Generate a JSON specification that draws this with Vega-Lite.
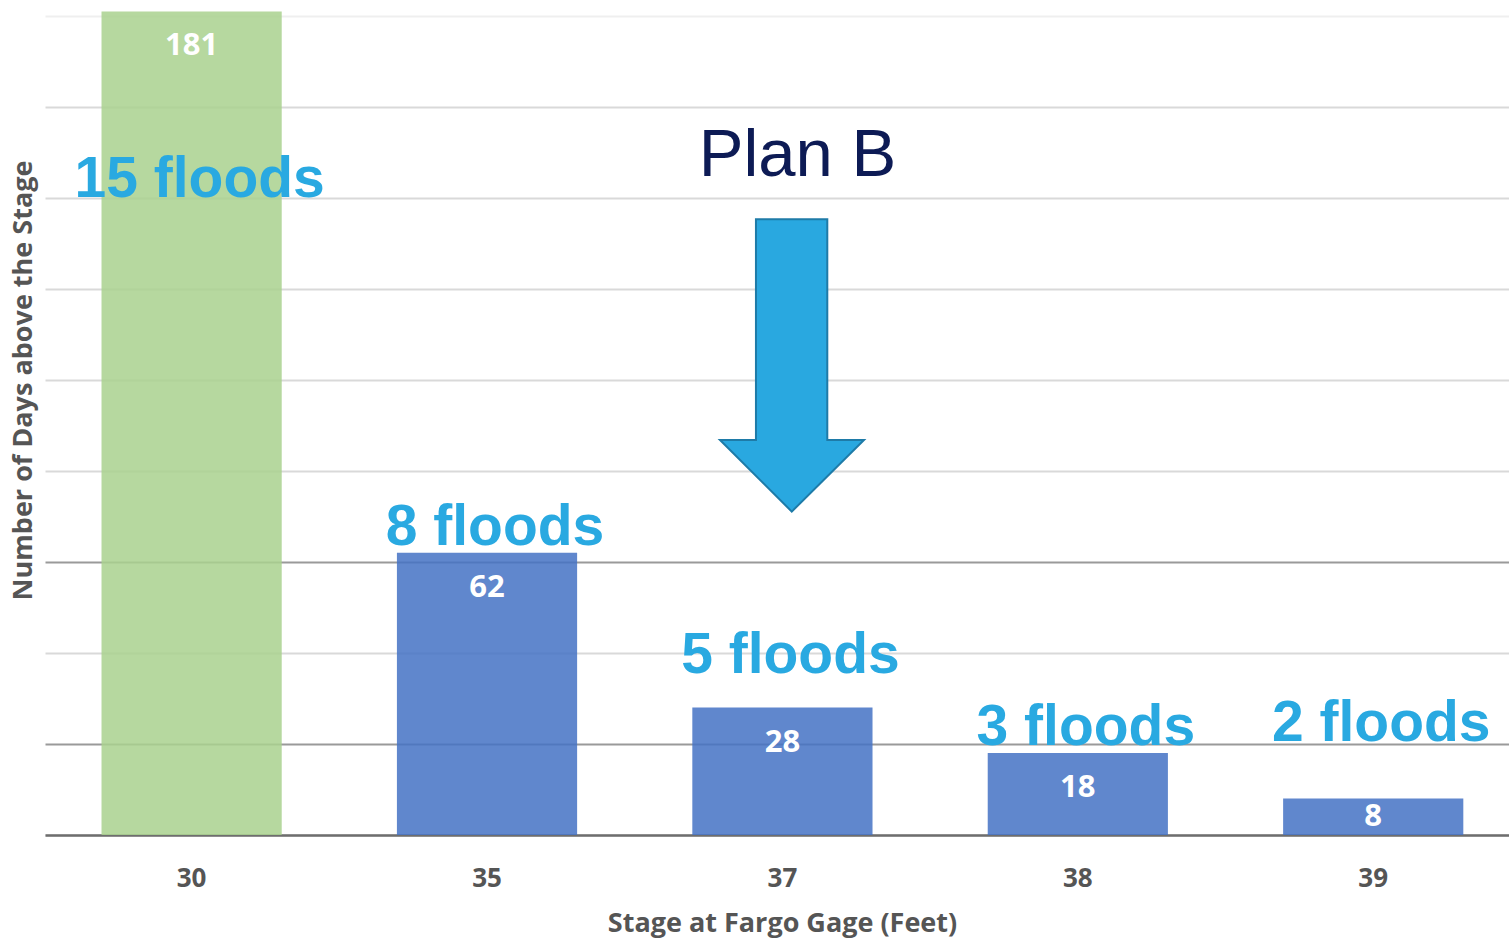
{
  "$schema": "https://vega.github.io/schema/vega-lite/v6.json",
  "width": 1464,
  "height": 835,
  "autosize": {"type": "none"},
  "padding": {"left": 45, "top": 0, "right": 0, "bottom": 104},
  "background": "white",
  "config": {"view": {"stroke": null}},
  "data": {
    "values": [
      {"stage": "30", "days": 181, "group": "hi", "floods": "15 floods", "note_y": 140.2},
      {"stage": "35", "days": 62, "group": "lo", "floods": "8 floods", "note_y": 63.7},
      {"stage": "37", "days": 28, "group": "lo", "floods": "5 floods", "note_y": 35.6},
      {"stage": "38", "days": 18, "group": "lo", "floods": "3 floods", "note_y": 19.8},
      {"stage": "39", "days": 8, "group": "lo", "floods": "2 floods", "note_y": 20.7}
    ]
  },
  "layer": [
    {
      "mark": {"type": "bar", "opacity": 0.85},
      "encoding": {
        "x": {
          "field": "stage", "type": "nominal", "title": "Stage at Fargo Gage (Feet)",
          "scale": {"domain": ["30", "35", "37", "38", "39"], "paddingInner": 0.39, "paddingOuter": 0.173, "align": 0.553},
          "axis": {
            "title": "Stage at Fargo Gage (Feet)", "labelAngle": 0, "ticks": false,
            "domainColor": "#6e6e6e", "domainWidth": 2.5,
            "labelFont": "Open Sans", "labelFontWeight": "bold", "labelFontSize": 26, "labelColor": "#555555", "labelPadding": 30,
            "titleFont": "Open Sans", "titleFontWeight": "bold", "titleFontSize": 27, "titleColor": "#555555", "titlePadding": 19, "titleX": 737
          }
        },
        "y": {
          "field": "days", "type": "quantitative", "title": "Number of Days above the Stage",
          "scale": {"domain": [0, 183.5], "nice": false},
          "axis": {
            "title": "Number of Days above the Stage", "values": [0, 20, 40, 60, 80, 100, 120, 140, 160, 180],
            "labels": false, "ticks": false, "domain": false, "grid": true,
            "gridColor": {"condition": [
              {"test": "datum.value === 20 || datum.value === 60", "value": "#9a9a9a"},
              {"test": "datum.value === 180", "value": "#efefef"}
            ], "value": "#d9d9d9"},
            "gridWidth": 2,
            "titleFont": "Open Sans", "titleFontWeight": "bold", "titleFontSize": 27, "titleColor": "#555555", "titlePadding": 8, "titleY": 380
          }
        },
        "color": {"field": "group", "type": "nominal", "scale": {"domain": ["hi", "lo"], "range": ["#A9D18E", "#4472C4"]}, "legend": null}
      }
    },
    {
      "transform": [{"filter": "datum.days >= 10"}],
      "mark": {"type": "text", "dy": 35, "baseline": "middle", "align": "center", "font": "Open Sans", "fontWeight": "bold", "fontSize": 31, "color": "white"},
      "encoding": {
        "x": {"field": "stage", "type": "nominal", "title": "Stage at Fargo Gage (Feet)"},
        "y": {"field": "days", "type": "quantitative", "title": "Number of Days above the Stage"},
        "text": {"field": "days", "type": "quantitative"}
      }
    },
    {
      "transform": [{"filter": "datum.days < 10"}],
      "mark": {"type": "text", "dy": 18, "baseline": "middle", "align": "center", "font": "Open Sans", "fontWeight": "bold", "fontSize": 31, "color": "white"},
      "encoding": {
        "x": {"field": "stage", "type": "nominal", "title": "Stage at Fargo Gage (Feet)"},
        "y": {"field": "days", "type": "quantitative", "title": "Number of Days above the Stage"},
        "text": {"field": "days", "type": "quantitative"}
      }
    },
    {
      "mark": {"type": "text", "dx": 8, "baseline": "alphabetic", "align": "center", "font": "Liberation Sans", "fontWeight": "bold", "fontSize": 57, "color": "#29a9e1"},
      "encoding": {
        "x": {"field": "stage", "type": "nominal", "title": "Stage at Fargo Gage (Feet)"},
        "y": {"field": "note_y", "type": "quantitative", "title": "Number of Days above the Stage"},
        "text": {"field": "floods", "type": "nominal"}
      }
    },
    {
      "data": {"values": [{"label": "Plan B"}]},
      "mark": {"type": "text", "dx": 15, "baseline": "alphabetic", "align": "center", "font": "Liberation Sans", "fontSize": 67, "color": "#0d1b55"},
      "encoding": {
        "x": {"datum": "37", "type": "nominal", "title": "Stage at Fargo Gage (Feet)"},
        "y": {"datum": 144.8, "type": "quantitative", "title": "Number of Days above the Stage"},
        "text": {"field": "label", "type": "nominal"}
      }
    },
    {
      "data": {"values": [{"label": "arrow"}]},
      "mark": {"type": "point", "filled": true, "shape": "M-0.181,-1L0.307,-1L0.307,0.51L0.558,0.51L0.064,1L-0.427,0.51L-0.181,0.51Z", "size": 85498, "fill": "#29a8e0", "stroke": "#1e7ba8", "strokeWidth": 2, "opacity": 1, "fillOpacity": 1},
      "encoding": {
        "x": {"datum": "37", "type": "nominal", "title": "Stage at Fargo Gage (Feet)"},
        "y": {"datum": 103.2, "type": "quantitative", "title": "Number of Days above the Stage"}
      }
    }
  ]
}
